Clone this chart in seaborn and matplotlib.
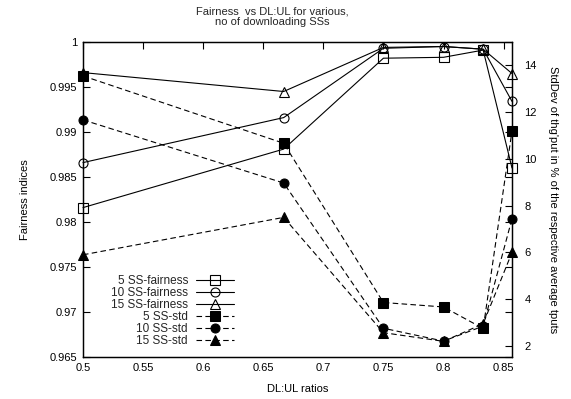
import matplotlib
matplotlib.use("Agg")
import matplotlib.pyplot as plt
import seaborn as sns
import pandas as pd

# ---- data ----
ratios = [0.5, 0.667, 0.75, 0.8, 0.833, 0.857]
fair_5 = [0.9816, 0.9881, 0.9982, 0.9983, 0.9991, 0.9860]
fair_10 = [0.9866, 0.9916, 0.9993, 0.9995, 0.9992, 0.9934]
fair_15 = [0.9966, 0.9945, 0.9994, 0.9995, 0.9992, 0.9965]
std_5 = [13.55, 10.67, 3.86, 3.67, 2.75, 11.2]
std_10 = [11.67, 8.97, 2.76, 2.21, 2.85, 7.44]
std_15 = [5.9, 7.5, 2.57, 2.2, 2.95, 6.0]
labels = ["5 SS-fairness", "10 SS-fairness", "15 SS-fairness",
          "5 SS-std", "10 SS-std", "15 SS-std"]
xticks = [0.5, 0.55, 0.6, 0.65, 0.7, 0.75, 0.8, 0.85]
yticks_left = [0.965, 0.97, 0.975, 0.98, 0.985, 0.99, 0.995, 1.0]
ytick_left_labels = ["0.965", "0.97", "0.975", "0.98", "0.985", "0.99", "0.995", "1"]
yticks_right = [2, 4, 6, 8, 10, 12, 14]

sns.set_theme(style="white")
plt.rcParams["font.family"] = ["Liberation Sans", "DejaVu Sans"]
plt.rcParams["font.size"] = 8

W, H = 571, 399
fig = plt.figure(figsize=(W / 100, H / 100), dpi=100)
ax = fig.add_axes([83 / W, 1 - 357 / H, (512 - 83) / W, (357 - 42) / H])
ax2 = ax.twinx()

lw = 0.8
ms = 6.5
df = pd.DataFrame({"x": ratios, "f5": fair_5, "f10": fair_10, "f15": fair_15,
                   "s5": std_5, "s10": std_10, "s15": std_15})

for col, mk, lab in [("f5", "s", labels[0]), ("f10", "o", labels[1]), ("f15", "^", labels[2])]:
    sns.lineplot(data=df, x="x", y=col, ax=ax, color="black", lw=lw, marker=mk,
                 markersize=ms, markerfacecolor="none", markeredgecolor="black",
                 markeredgewidth=0.8, label=lab, legend=False, clip_on=False)

for col, mk, lab in [("s5", "s", labels[3]), ("s10", "o", labels[4]), ("s15", "^", labels[5])]:
    sns.lineplot(data=df, x="x", y=col, ax=ax2, color="black", lw=lw, marker=mk,
                 markersize=ms, markerfacecolor="black", markeredgecolor="black",
                 linestyle=(0, (5, 3)), label=lab, legend=False, clip_on=False)

ax.set_xlim(0.5, 0.857)
ax.set_ylim(0.965, 1.0)
ax2.set_ylim(1.53, 15.0)
ax.set_xticks(xticks)
ax.set_xticklabels([f"{v:g}" for v in xticks])
ax.set_yticks(yticks_left)
ax.set_yticklabels(ytick_left_labels)
ax2.set_yticks(yticks_right)

ax.tick_params(direction="in", length=5, width=0.8, top=True, right=True,
               labelsize=8, colors="black", pad=4)
ax.tick_params(axis="y", labelright=False)
ax2.tick_params(direction="in", length=5, width=0.8, right=True, left=False,
                labelsize=8, colors="black", pad=9)
ax2.grid(False)
ax.grid(False)
for sp in ax.spines.values():
    sp.set_color("black"); sp.set_linewidth(0.9)
for sp in ax2.spines.values():
    sp.set_color("black"); sp.set_linewidth(0.9)

ax.set_xlabel("DL:UL ratios", fontsize=8, color="black", labelpad=8)
ax.set_ylabel("Fairness indices", fontsize=8, color="black", labelpad=14)
ax2.set_ylabel("StdDev of thg'put in % of the respective average tputs",
               fontsize=8, color="black", rotation=-90, labelpad=15)

fig.text(272 / W, 1 - 7 / H, "Fairness  vs DL:UL for various,\nno of downloading SSs",
         ha="center", va="top", fontsize=8, linespacing=1.0)

h1, l1 = ax.get_legend_handles_labels()
h2, l2 = ax2.get_legend_handles_labels()
leg = ax2.legend(h1 + h2, l1 + l2, loc="upper right",
                 bbox_to_anchor=(234 / W, 1 - 275 / H), bbox_transform=fig.transFigure,
                 frameon=False, markerfirst=False, handlelength=3.2,
                 handletextpad=0.7, labelspacing=0.0, borderpad=0, borderaxespad=0,
                 fontsize=8.5)

fig.savefig("out.png", dpi=100)
